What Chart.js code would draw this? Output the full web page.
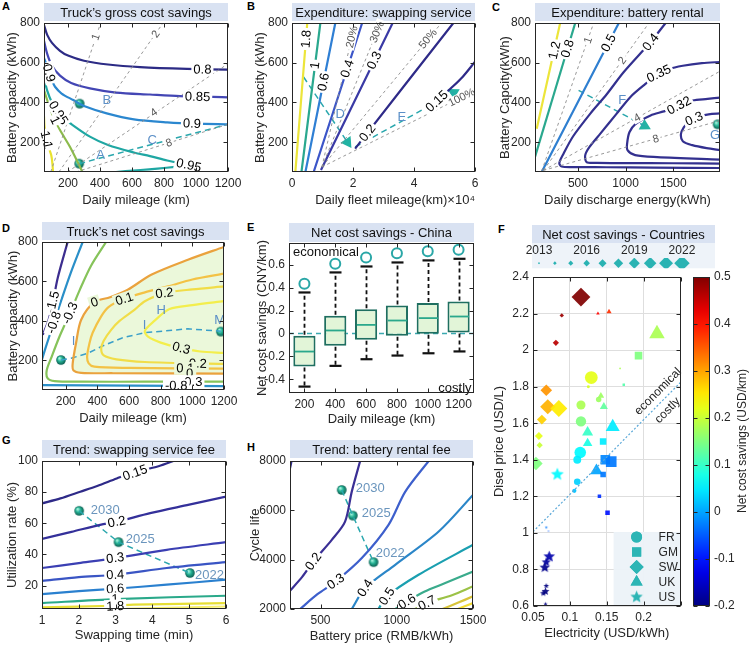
<!DOCTYPE html>
<html><head><meta charset="utf-8">
<script src="https://cdn.jsdelivr.net/npm/chart.js@4.4.1/dist/chart.umd.min.js"></script>
<style>
html,body{margin:0;padding:0;background:#fff;}
#wrap{position:relative;width:750px;height:646px;overflow:hidden;background:#fff;}
canvas{position:absolute;}
.lt{position:absolute;font:bold 11px "Liberation Sans",Arial,sans-serif;color:#000;line-height:11px;}
</style></head><body><div id="wrap">
<div class="lt" style="left:2px;top:1px">A</div>
<div class="lt" style="left:247px;top:1px">B</div>
<div class="lt" style="left:492px;top:2px">C</div>
<div class="lt" style="left:2px;top:223px">D</div>
<div class="lt" style="left:247px;top:222px">E</div>
<div class="lt" style="left:498px;top:224px">F</div>
<div class="lt" style="left:2px;top:435px">G</div>
<div class="lt" style="left:247px;top:442px">H</div>
</div>
<script>
// ================= DATA =================
// Panel A: truck's gross cost savings (x: daily mileage km, y: battery kWh)
const A_xt = [200,400,600,800,1000,1200], A_yt = [200,400,600,800];
const A_c080 = [[50,790],[70,740],[100,700],[150,660],[200,636],[300,610],[450,591],[650,578],[944,569],[1200,565]];
const A_c085 = [[50,710],[70,645],[100,585],[150,535],[220,498],[337,471],[500,450],[712,440],[900,432],[1200,426]];
const A_c090 = [[50,625],[65,590],[81,548],[100,510],[119,479],[160,445],[233,412],[300,382],[442,345],[612,315],[820,300],[1000,293],[1200,290]];
const A_c095u = [[50,525],[70,460],[100,400],[150,335],[223,290],[337,228],[450,186],[612,148],[712,130],[820,108],[1000,76]];
const A_c095l = [[500,50],[560,54],[653,60],[760,67],[870,76]];
const A_c100 = [[50,462],[75,400],[108,328],[150,261],[212,177],[264,94],[290,50]];
const A_c110 = [[50,330],[53,280],[62,230],[75,185],[95,135],[103,90],[106,50]];
const A_g1 = [[92,50],[404,800]], A_g2 = [[143,50],[794,800]], A_g4 = [[196,50],[1200,595]], A_g8 = [[250,50],[1200,290]];
const A_lineC = [[270,92],[1200,290]];
const A_balls = [[273,394],[270,92]];
const A_lab = [['0.8',1040,566],['0.85',1010,429],['0.9',975,294],['0.9',81,548],['0.95',140,348],['0.95',955,84],['1',119,311],['1.1',66,212]];
const A_glab = [['1',372,730],['2',747,745],['4',736,350],['8',830,197]];
const A_txt = [['A',404,134],['B',443,414],['C',726,209]];

// Panel B: swapping service expenditure (x: daily fleet mileage 1e4 km)
const B_xt = [0,2,4,6];
const B_c18 = [[0.11,50],[0.5,800]];
const B_c1 = [[0.31,50],[0.93,800]];
const B_c06 = [[0.44,50],[1.42,800]];
const B_c04 = [[0.71,50],[2.3,800]];
const B_c03 = [[0.95,60],[3.3,800]];
const B_c02 = [[2.07,168],[5.29,800]];
const B_c015 = [[4.6,385],[5.2,470],[5.6,530],[6,605]];
const B_g20 = [[0.98,75],[2.07,800]], B_g30 = [[0.98,75],[2.9,800]], B_g50 = [[0.98,75],[4.9,800]], B_g100 = [[0.98,75],[6,460]];
const B_lineD = [[0.38,528],[1.82,200]];
const B_lineE = [[2.07,176],[5.3,450]];
const B_lab = [['1.8',0.46,720],['1',0.75,587],['0.6',1.03,503],['0.4',1.81,570],['0.3',2.7,612],['0.2',2.47,247],['0.15',4.75,406]];
const B_glab = [['20%',1.96,730],['30%',2.78,755],['50%',4.45,721],['100%',5.56,426]];
const B_txt = [['D',1.58,344],['E',3.6,327]];

// Panel C: battery rental expenditure (x: daily discharge energy kWh)
const C_xt = [500,1000,1500];
const C_c12 = [[68,268],[314,800]];
const C_c08 = [[50,126],[472,800]];
const C_c05 = [[120,50],[929,800]];
const C_c04 = [[1420,800],[1262,704],[981,553],[800,440],[630,344],[450,230],[349,142],[305,95],[330,78],[450,75],[800,74],[1300,72],[2000,70]];
const C_c035 = [[2000,604],[1800,598],[1600,585],[1450,568],[1350,545],[1200,490],[1051,428],[900,340],[735,243],[620,175],[577,135],[590,100],[700,96],[1000,95],[1500,94],[2000,92]];
const C_c032 = [[2000,425],[1860,418],[1700,410],[1600,395],[1520,375],[1400,355],[1262,335],[1100,290],[1040,250],[1016,193],[1020,160],[1100,135],[1332,125],[2000,112]];
const C_c03 = [[2000,345],[1870,340],[1780,330],[1719,318],[1660,300],[1610,275],[1580,240],[1600,205],[1700,185],[1850,170],[2000,160]];
const C_g1 = [[120,55],[665,800]], C_g2 = [[138,58],[1245,800]], C_g4 = [[138,58],[2000,560]], C_g8 = [[138,58],[2000,310]];
const C_lineF = [[507,461],[1200,282]];
const C_balls = [[1965,290]];
const C_lab = [['1.2',255,662],['0.8',391,671],['0.5',820,700],['0.4',1262,704],['0.35',1350,545],['0.32',1560,385],['0.3',1719,318]];
const C_glab = [['1',605,713],['2',965,612],['4',1122,323],['8',1315,217]];
const C_txt = [['F',964,411],['G',1937,235]];

// Panel D: truck's net cost savings
const D_cm15 = [[212,800],[150,620],[120,500],[90,400],[55,330]];
const D_cm08 = [[307,800],[230,640],[170,500],[120,380],[75,270],[50,205]];
const D_cm08b = [[50,75],[1200,70]];
const D_cm03 = [[455,800],[360,680],[290,560],[227,440],[160,320],[107,210],[80,150],[85,110],[130,95],[300,92],[700,92],[1200,92]];
const D_c0 = [[1200,775],[972,710],[740,634],[592,558],[480,520],[381,495],[297,405],[265,287],[244,185],[248,150],[297,137],[500,135],[1200,133]];
const D_c01 = [[1200,640],[1000,610],[845,575],[700,545],[570,512],[470,470],[423,422],[370,340],[350,287],[335,220],[345,185],[381,168],[600,162],[1200,158]];
const D_c02 = [[1200,575],[1000,560],[824,541],[700,500],[634,456],[540,400],[487,355],[440,300],[424,260],[440,225],[520,205],[700,192],[1200,182]];
const D_c03 = [[1200,500],[1000,480],[856,460],[760,400],[700,350],[720,320],[800,290],[930,262],[1050,245],[1200,238]];
const D_path = [[170,202],[234,211],[339,236],[424,270],[560,315],[698,340],[972,360],[1180,348]];
const D_balls = [[170,202],[1180,346]];
const D_lab = [['-1.5',118,495],['-0.8',125,392],['-0.3',227,440],['0',381,495],['0.1',570,512],['0.2',824,541],['0.3',930,262],['0.2',1035,184],['0.1',955,160],['0',983,134],['-0.3',993,92],['-0.8',898,72]];
const D_txt = [['H',803,456],['M',1172,405],['I',698,380],['I',250,300]];

// Panel E: net cost savings China (box plot)
const E_cats = ['200','400','600','800','1000','1200'];
const E_yt = [-0.4,-0.2,0,0.2,0.4,0.6];
const E_min = [-0.464,-0.283,-0.225,-0.193,-0.173,-0.157];
const E_q1  = [-0.289,-0.108,-0.056,-0.021,-0.002,0.009];
const E_med = [-0.158,0.026,0.075,0.113,0.134,0.148];
const E_q3  = [-0.021,0.154,0.212,0.244,0.265,0.279];
const E_max = [0.358,0.533,0.585,0.62,0.638,0.652];
const E_top = [0.434,0.609,0.664,0.70,0.717,0.731];

// Panel F: countries (x electricity USD/kWh, y diesel USD/L, v net savings USD/km, yr year)
const F_xt = [0.05,0.1,0.15,0.2,0.25], F_yt = [0.6,0.8,1,1.2,1.4,1.6,1.8,2,2.2,2.4];
const FR_x = [0.129,0.125,0.115,0.115,0.139,0.168,0.114,0.110,0.110,0.106];
const FR_y = [1.85,1.80,1.70,1.61,1.73,1.90,1.44,1.40,1.28,1.23];
const FR_v = [0.22,0.21,0.18,0.15,0.17,0.18,0.06,0.05,0.03,0.02];
const FR_yr = [2022,2014,2019,2020,2016,2013,2021,2018,2017,2015];
const GM_x = [0.193,0.173,0.145,0.148,0.156,0.145,0.140,0.151];
const GM_y = [1.97,1.81,1.50,1.40,1.39,1.32,1.20,1.11];
const GM_v = [0.15,0.12,0.05,-0.02,-0.03,-0.03,-0.08,-0.10];
const GM_yr = [2019,2014,2018,2021,2022,2017,2015,2016];
const SW_x = [0.115,0.089,0.081,0.068,0.070,0.085,0.062,0.058,0.059,0.054];
const SW_y = [2.29,2.19,2.04,1.78,1.69,1.68,1.62,1.53,1.48,1.38];
const SW_v = [0.50,0.48,0.46,0.31,0.29,0.25,0.27,0.22,0.20,0.15];
const SW_yr = [2022,2014,2015,2018,2020,2021,2017,2016,2015,2019];
const UK_x = [0.218,0.138,0.153,0.146,0.142,0.124,0.124,0.158,0.136];
const UK_y = [2.09,2.20,2.21,1.69,1.75,1.55,1.49,1.58,1.34];
const UK_v = [0.18,0.41,0.38,0.13,0.17,0.10,0.08,0.05,0.00];
const UK_yr = [2022,2014,2015,2017,2016,2019,2018,2021,2020];
const US_x = [0.083,0.068,0.071,0.072,0.068,0.066,0.068,0.067,0.064,0.067];
const US_y = [1.32,1.03,1.01,0.87,0.84,0.81,0.71,0.68,0.67,0.61];
const US_v = [0.06,-0.03,-0.05,-0.17,-0.18,-0.19,-0.20,-0.20,-0.20,-0.20];
const US_yr = [2022,2014,2013,2021,2019,2020,2016,2018,2017,2015];
const F_years = [2013,2014,2015,2016,2017,2018,2019,2020,2021,2022];
const F_yearTicks = [2013,2016,2019,2022];
const F_sep = [[0.05,1.006],[0.25,1.824]];
const F_txt = [['economical',0.219,1.775],['costly',0.232,1.672]];
const F_legend = ['FR','GM','SW','UK','US'];
const CB_range = [-0.2,0.5];
const CB_t = [-0.2,-0.1,0,0.1,0.2,0.3,0.4,0.5];

// Panel G: swapping service fee trend
const G_xt = [1,2,3,4,5,6], G_yt = [20,40,60,80,100];
const G_c015 = [[1,72.8],[1.5,76],[2.04,80.3],[2.5,84],[3.03,88.8],[3.53,93],[4.12,96.3],[4.57,100],[5,103]];
const G_c02 = [[1,50],[1.8,54.5],[2.58,59],[3.03,61],[3.94,66.5],[5,72],[6,77.2]];
const G_c03 = [[1,31.3],[2,34.5],[2.99,37.7],[4.39,43],[6,47.9]];
const G_c04 = [[1,23.1],[2,25.5],[2.99,27],[4.39,31.3],[6,35.1]];
const G_c06 = [[1,14.6],[2,16.5],[2.99,18],[4.39,20.6],[6,23.8]];
const G_c1 = [[1,8.8],[2.99,11.4],[6,13.5]];
const G_c18 = [[1,6.1],[2.94,7.1],[3.49,7.8],[6,8.8]];
const G_c25 = [[2.9,5],[6,6.6]];
const G_path = [[2.01,68],[3.08,47.9],[5.02,28.1]];
const G_lab = [['0.15',3.53,92.5],['0.2',3.03,61],['0.3',2.99,37.7],['0.4',2.99,27],['0.6',2.99,18],['1',2.99,11.4],['1.8',2.99,6.8]];
const G_txt = [['2030',2.72,68.6],['2025',3.67,50],['2022',5.55,27]];

// Panel H: battery rental fee trend
const H_xt = [500,1000,1500], H_yt = [2000,4000,6000,8000];
const H_c015 = [[300,7700],[310,8000]];
const H_c02 = [[300,2741],[380,3300],[453,3928],[574,4804],[661,5545],[705,6758],[760,8000]];
const H_c03 = [[366,2000],[480,2600],[600,3119],[771,4063],[946,5410],[1056,6758],[1209,8000]];
const H_c04 = [[705,2000],[793,2849],[990,3793],[1275,5141],[1500,6624]];
const H_c05 = [[880,2000],[935,2512],[1143,3388],[1500,4602]];
const H_c06 = [[990,2000],[1067,2300],[1180,2700],[1318,3050],[1500,3523]];
const H_c07 = [[1120,2000],[1198,2243],[1362,2560],[1500,2917]];
const H_c08 = [[1300,2000],[1400,2250],[1500,2512]];
const H_c09 = [[1400,2000],[1500,2243]];
const H_path = [[639,6826],[712,5788],[848,3900]];
const H_lab = [['0.2',453,3928],['0.3',600,3119],['0.4',793,2849],['0.5',935,2512],['0.6',1067,2300],['0.7',1198,2243]];
const H_txt = [['2030',826,6893],['2025',865,5882],['2022',957,4265]];

// ================= HELPERS =================
const FF = '"Liberation Sans", Arial, Helvetica, sans-serif';
Chart.defaults.font.family = FF;
const TXT = '#262626';
const toXY = a => a.map(p => ({x: p[0], y: p[1]}));
const fmt = function (v) { return String(parseFloat(Number(v).toFixed(3))); };
const L = (arr, color, extra) => Object.assign({data: toXY(arr), showLine: true, borderColor: color, borderWidth: 2.2,
  pointRadius: 0, pointHoverRadius: 0, tension: 0.3, fill: false}, extra || {});
const GREY = {borderWidth: 0.9, borderDash: [3, 3], tension: 0, noAngle: false};
const TEALDASH = {borderWidth: 1.5, borderDash: [6, 4], tension: 0, noAngle: true};

const ballCache = {};
function ballImg(r) {
  if (ballCache[r]) return ballCache[r];
  const s = Math.ceil(r * 2 + 2), c = document.createElement('canvas'); c.width = c.height = s;
  const x = c.getContext('2d'), m = s / 2;
  const g = x.createRadialGradient(m - r * 0.35, m - r * 0.4, r * 0.1, m, m, r);
  g.addColorStop(0, '#a8f5df'); g.addColorStop(0.45, '#25b294'); g.addColorStop(1, '#0b5d50');
  x.fillStyle = g; x.beginPath(); x.arc(m, m, r, 0, Math.PI * 2); x.fill();
  return (ballCache[r] = c);
}
const balls = arr => ({data: toXY(arr), showLine: false, pointStyle: ballImg(4.8), pointRadius: 5});
function arrowSet(line, color) {
  const last = line[line.length - 1], prev = line[line.length - 2];
  return {data: [{x: last[0], y: last[1]}], showLine: false, pointStyle: 'triangle', pointRadius: 7,
    backgroundColor: color, borderColor: color, borderWidth: 0,
    rotation: c => { const xs = c.chart.scales.x, ys = c.chart.scales.y;
      const dx = xs.getPixelForValue(last[0]) - xs.getPixelForValue(prev[0]);
      const dy = ys.getPixelForValue(last[1]) - ys.getPixelForValue(prev[1]);
      return Math.atan2(dy, dx) * 180 / Math.PI + 90; }};
}
function jet(v, a) {
  const t = Math.max(0, Math.min(1, (v - CB_range[0]) / (CB_range[1] - CB_range[0])));
  const f = k => Math.round(255 * Math.max(0, Math.min(1, 1.5 - Math.abs(4 * t - k))));
  return `rgba(${f(3)},${f(2)},${f(1)},${a == null ? 1 : a})`;
}
const rYear = y => 1.3 + (y - 2013) * 0.9;
const starCache = {};
function starImg(color, r) {
  const key = color + r.toFixed(1); if (starCache[key]) return starCache[key];
  const s = Math.ceil(r * 2 + 2), c = document.createElement('canvas'); c.width = c.height = s;
  const x = c.getContext('2d'), m = s / 2; x.fillStyle = color; x.beginPath();
  for (let i = 0; i < 10; i++) { const rr = i % 2 ? r * 0.45 : r, a = -Math.PI / 2 + i * Math.PI / 5;
    x.lineTo(m + rr * Math.cos(a), m + rr * Math.sin(a)); }
  x.closePath(); x.fill();
  return (starCache[key] = c);
}

// ================= PLUGINS =================
const framePlugin = {
  id: 'frame',
  beforeDraw(chart, args, o) {
    const {ctx, chartArea: a} = chart; ctx.save();
    if (o.band) { ctx.fillStyle = o.band.color; ctx.fillRect(a.left, a.top - o.band.up, a.right - a.left, a.bottom - a.top + o.band.up); }
    if (o.title) {
      const t = o.title, l = a.left + (t.dl || 0), r = a.right + (t.dr || 0), top = a.top - t.up;
      ctx.fillStyle = '#d9e2f2'; ctx.fillRect(l, top, r - l, t.h);
      ctx.fillStyle = '#111'; ctx.font = '13px ' + FF; ctx.textAlign = 'center'; ctx.textBaseline = 'middle';
      ctx.fillText(t.text, (l + r) / 2, top + t.h / 2 + 1);
    }
    if (o.vtext) { ctx.translate(o.vtext.x, o.vtext.y); ctx.rotate(-Math.PI / 2); ctx.fillStyle = TXT;
      ctx.font = '12px ' + FF; ctx.textAlign = 'center'; ctx.textBaseline = 'middle'; ctx.fillText(o.vtext.text, 0, 0); }
    ctx.restore();
  },
  afterDraw(chart, args, o) {
    if (!o.box) return;
    const {ctx, chartArea: a} = chart; ctx.save(); ctx.strokeStyle = '#262626'; ctx.lineWidth = 1;
    const l = Math.round(a.left) + 0.5, t = Math.round(a.top) + 0.5, r = Math.round(a.right) - 0.5, b = Math.round(a.bottom) - 0.5;
    ctx.strokeRect(l, t, r - l, b - t);
    const T = 4; ctx.beginPath();
    if (!o.noX) { const xs = chart.scales.x; xs.ticks.forEach((tk, i) => { const x = Math.round(xs.getPixelForTick(i)) + 0.5;
      ctx.moveTo(x, b); ctx.lineTo(x, b - T); ctx.moveTo(x, t); ctx.lineTo(x, t + T); }); }
    const ys = chart.scales.y; ys.ticks.forEach((tk, i) => { const y = Math.round(ys.getPixelForTick(i)) + 0.5;
      ctx.moveTo(l, y); ctx.lineTo(l + T, y); ctx.moveTo(r, y); ctx.lineTo(r - T, y); });
    ctx.stroke(); ctx.restore();
  }
};
function polyPath(ctx, meta) { ctx.beginPath(); meta.data.forEach((p, i) => i ? ctx.lineTo(p.x, p.y) : ctx.moveTo(p.x, p.y)); ctx.closePath(); }
const polyFill = {
  id: 'polyFill',
  beforeDatasetsDraw(chart, args, o) {
    if (o.index == null) return;
    const {ctx, chartArea: a} = chart; ctx.save(); ctx.beginPath(); ctx.rect(a.left, a.top, a.right - a.left, a.bottom - a.top); ctx.clip();
    polyPath(ctx, chart.getDatasetMeta(o.index)); ctx.fillStyle = o.color; ctx.fill(); ctx.restore();
  }
};
const annot = {
  id: 'annot',
  afterDatasetsDraw(chart, args, o) {
    if (!o.groups) return;
    const {ctx} = chart, xs = chart.scales.x, ys = chart.scales.y, segs = [];
    chart.data.datasets.forEach((d, i) => { if (!d.showLine || d.noAngle) return;
      const pts = chart.getDatasetMeta(i).data;
      for (let k = 1; k < pts.length; k++) segs.push([pts[k - 1].x, pts[k - 1].y, pts[k].x, pts[k].y]); });
    o.groups.forEach(g => g.items.forEach(([t, x, y]) => {
      const px = xs.getPixelForValue(x), py = ys.getPixelForValue(y); let ang = 0;
      if (g.rotate) { let best = 1e12;
        segs.forEach(([x1, y1, x2, y2]) => { const dx = x2 - x1, dy = y2 - y1, l2 = dx * dx + dy * dy || 1;
          let u = ((px - x1) * dx + (py - y1) * dy) / l2; u = Math.max(0, Math.min(1, u));
          const qx = x1 + u * dx - px, qy = y1 + u * dy - py, d2 = qx * qx + qy * qy;
          if (d2 < best) { best = d2; ang = Math.atan2(dy, dx); } });
        if (ang > Math.PI / 2) ang -= Math.PI; if (ang < -Math.PI / 2) ang += Math.PI; }
      ctx.save(); ctx.font = g.font; const w = ctx.measureText(t).width; let bg = g.bg;
      if (bg && g.fillIndex != null) { polyPath(ctx, chart.getDatasetMeta(g.fillIndex)); if (ctx.isPointInPath(px, py)) bg = g.fillBg; ctx.beginPath(); }
      ctx.translate(px, py); ctx.rotate(ang);
      if (bg) { ctx.fillStyle = bg; ctx.fillRect(-w / 2 - 2, -g.h / 2, w + 4, g.h); }
      ctx.fillStyle = g.color; ctx.textAlign = 'center'; ctx.textBaseline = 'middle'; ctx.fillText(t, 0, 0.5);
      ctx.restore(); }));
  }
};
const boxw = {
  id: 'boxw',
  beforeDatasetsDraw(chart, args, o) {
    if (!o.min) return;
    const {ctx, chartArea: a} = chart, y0 = Math.round(chart.scales.y.getPixelForValue(0)) + 0.5;
    ctx.save(); ctx.strokeStyle = '#3aa9b0'; ctx.lineWidth = 1.5; ctx.setLineDash([5, 4]);
    ctx.beginPath(); ctx.moveTo(a.left, y0); ctx.lineTo(a.right, y0); ctx.stroke(); ctx.restore();
  },
  afterDatasetsDraw(chart, args, o) {
    if (!o.min) return;
    const {ctx} = chart, xs = chart.scales.x, ys = chart.scales.y, bars = chart.getDatasetMeta(0).data;
    const ln = (x1, y1, x2, y2) => { ctx.beginPath(); ctx.moveTo(x1, y1); ctx.lineTo(x2, y2); ctx.stroke(); };
    ctx.save();
    o.min.forEach((mn, i) => {
      const x = Math.round(xs.getPixelForValue(i)) + 0.5, P = v => ys.getPixelForValue(v);
      ctx.strokeStyle = '#111'; ctx.lineWidth = 1.8; ctx.setLineDash([4, 3]);
      ln(x, P(o.q3[i]) - 1, x, P(o.max[i])); ln(x, P(o.q1[i]) + 1, x, P(mn));
      ctx.setLineDash([]); ctx.lineWidth = 2.2;
      ln(x - 6, P(o.max[i]), x + 6, P(o.max[i])); ln(x - 6, P(mn), x + 6, P(mn));
      const bw = bars[i].width; ctx.strokeStyle = '#2aa88c'; ctx.lineWidth = 1.8;
      ln(x - bw / 2 + 1.5, P(o.med[i]), x + bw / 2 - 1.5, P(o.med[i]));
    });
    (o.corner || []).forEach(([t, x, y, al]) => { ctx.fillStyle = '#111'; ctx.font = '13px ' + FF; ctx.textAlign = al;
      ctx.textBaseline = 'middle'; ctx.fillText(t, xs.getPixelForValue(x), ys.getPixelForValue(y)); });
    ctx.restore();
  }
};
const legF = {
  id: 'legF',
  afterDatasetsDraw(chart, args, o) {
    if (!o.items) return;
    const {ctx, chartArea: a} = chart, w = 67, h = 74; ctx.save();
    ctx.fillStyle = 'rgba(236,242,248,0.95)'; ctx.fillRect(a.right - w, a.bottom - h, w, h);
    const styles = ['circle', 'rect', 'rectRot', 'triangle', 'star'], rad = [5.5, 6.5, 7, 7, 6.5], col = '#2cb5b5';
    o.items.forEach((t, i) => { const y = a.bottom - 69 + i * 15, x = a.right - 44;
      if (styles[i] === 'star') { const im = starImg(col, rad[i]); ctx.drawImage(im, x - im.width / 2, y - im.height / 2); }
      else { ctx.fillStyle = col; ctx.strokeStyle = col; Chart.helpers.drawPoint(ctx, {pointStyle: styles[i], radius: rad[i], borderWidth: 0, rotation: 0}, x, y); ctx.fill(); }
      ctx.fillStyle = TXT; ctx.font = '12px ' + FF; ctx.textAlign = 'left'; ctx.textBaseline = 'middle'; ctx.fillText(t, a.right - 22, y + 1);
    });
    ctx.restore();
  }
};
Chart.register(framePlugin, polyFill, annot, boxw, legF);

function mkCanvas(g) {
  const c = document.createElement('canvas'); c.width = g.x1 - g.x0; c.height = g.y1 - g.y0;
  c.style.left = g.x0 + 'px'; c.style.top = g.y0 + 'px'; c.style.width = c.width + 'px'; c.style.height = c.height + 'px';
  document.getElementById('wrap').appendChild(c); return c;
}
const setTicks = arr => (arr ? (s => { s.ticks = arr.map(v => ({value: v})); }) : undefined);
function sx(g, o) {
  return {type: o.type || 'linear', min: o.min, max: o.max, offset: !!o.offset, position: o.position || 'bottom',
    grid: o.grid ? {display: true, color: '#dedede', drawTicks: false} : {display: false, drawTicks: false},
    border: {display: false},
    ticks: Object.assign({autoSkip: false, maxRotation: 0, padding: o.tp == null ? 4 : o.tp,
      color: TXT, font: {size: 12}}, o.type === 'category' ? {} : {callback: o.cb || fmt}),
    afterBuildTicks: setTicks(o.ticks),
    title: {display: !!o.title, text: o.title, color: TXT, font: {size: 13}, align: o.align || 'center',
      padding: {top: 0, bottom: g.xt ? g.y1 - g.xt - 7.8 : 0}},
    afterFit: s => { s.height = o.h != null ? o.h : g.y1 - g.B; }};
}
function sy(g, o) {
  return {type: 'linear', min: o.min, max: o.max, position: o.position || 'left',
    grid: o.grid ? {display: true, color: '#dedede', drawTicks: false} : {display: false, drawTicks: false},
    border: {display: false},
    ticks: {autoSkip: false, padding: 4, color: TXT, font: {size: 12}, callback: o.cb || fmt},
    afterBuildTicks: setTicks(o.ticks),
    title: {display: !!o.title, text: o.title, color: TXT, font: {size: 13}, padding: {top: g.yt ? g.yt - g.x0 - 7.8 : 0, bottom: 0}},
    afterFit: s => { s.width = o.w != null ? o.w : g.L - g.x0; }};
}
function make(g, type, data, scales, plugins, pad) {
  const c = mkCanvas(g);
  return new Chart(c, {type, data, options: {responsive: false, animation: false, devicePixelRatio: 1, events: [],
    layout: {padding: pad || {left: 0, top: g.T - g.y0, right: g.x1 - g.R, bottom: 0}},
    scales, plugins: Object.assign({legend: {display: false}, tooltip: {enabled: false}}, plugins)}});
}
const LBL = (items, extra) => Object.assign({items, rotate: true, bg: '#fff', color: '#000', font: '13px ' + FF, h: 13}, extra || {});
const GLB = items => ({items, rotate: true, bg: '#fff', color: '#555', font: '11px ' + FF, h: 10});
const TX = (items, color) => ({items, rotate: false, color: color || '#5b8fc7', font: '13px ' + FF});
const TEAL = '#2aa7ad';

// ================= PANEL A =================
(() => { const g = {L: 44, T: 23, R: 228, B: 172, x0: 0, y0: 0, x1: 254, y1: 210, yt: 12, xt: 200};
  make(g, 'scatter', {datasets: [
    L(A_g1, '#8c8c8c', GREY), L(A_g2, '#8c8c8c', GREY), L(A_g4, '#8c8c8c', GREY), L(A_g8, '#8c8c8c', GREY),
    L(A_c080, '#2c2b85'), L(A_c085, '#4346b4'), L(A_c090, '#2b87cf'), L(A_c095u, '#1fa7a3'), L(A_c095l, '#1fa7a3'),
    L(A_c100, '#8cbb4c'), L(A_c110, '#e9e22e'),
    L(A_lineC, TEAL, TEALDASH), balls(A_balls)]},
    {x: sx(g, {min: 50, max: 1200, ticks: A_xt, title: 'Daily mileage (km)'}), y: sy(g, {min: 50, max: 800, ticks: A_yt, title: 'Battery capacity (kWh)'})},
    {frame: {box: true, title: {text: 'Truck\u2019s gross cost savings', up: 20, h: 18}},
     annot: {groups: [LBL(A_lab), GLB(A_glab), TX(A_txt)]}});
})();

// ================= PANEL B =================
(() => { const g = {L: 292, T: 23, R: 475, B: 172, x0: 248, y0: 0, x1: 501, y1: 210, yt: 260, xt: 200};
  make(g, 'scatter', {datasets: [
    L(B_g20, '#8c8c8c', GREY), L(B_g30, '#8c8c8c', GREY), L(B_g50, '#8c8c8c', GREY), L(B_g100, '#8c8c8c', GREY),
    L(B_c18, '#ece53a'), L(B_c1, '#2aa88e'), L(B_c06, '#2f7fd4'), L(B_c04, '#3b55c8'), L(B_c03, '#3a3aa5'), L(B_c02, '#2e2a88'), L(B_c015, '#2e2a88'),
    L(B_lineD, TEAL, TEALDASH), L(B_lineE, TEAL, TEALDASH), arrowSet(B_lineD, '#22b3a3'), arrowSet(B_lineE, '#22b3a3')]},
    {x: sx(g, {min: 0, max: 6, ticks: B_xt, title: 'Daily fleet mileage(km)\u00d710\u2074', align: 'end'}), y: sy(g, {min: 50, max: 800, ticks: A_yt, title: 'Battery capacity (kWh)'})},
    {frame: {box: true, title: {text: 'Expenditure: swapping service', up: 20, h: 18}},
     annot: {groups: [LBL(B_lab), GLB(B_glab), TX(B_txt)]}});
})();

// ================= PANEL C =================
(() => { const g = {L: 535, T: 23, R: 720, B: 172, x0: 491, y0: 0, x1: 748, y1: 210, yt: 505, xt: 200};
  make(g, 'scatter', {datasets: [
    L(C_g1, '#8c8c8c', GREY), L(C_g2, '#8c8c8c', GREY), L(C_g4, '#8c8c8c', GREY), L(C_g8, '#8c8c8c', GREY),
    L(C_c12, '#ece53a'), L(C_c08, '#2aa88e'), L(C_c05, '#2f7fd0'), L(C_c04, '#33308f'), L(C_c035, '#33308f'), L(C_c032, '#33308f'), L(C_c03, '#33308f'),
    L(C_lineF, TEAL, TEALDASH), arrowSet(C_lineF, '#22b3a3'), balls(C_balls)]},
    {x: sx(g, {min: 50, max: 1990, ticks: C_xt, title: 'Daily discharge energy(kWh)'}), y: sy(g, {min: 50, max: 800, ticks: A_yt, title: 'Battery Capcity(kWh)'})},
    {frame: {box: true, title: {text: 'Expenditure: battery rental', up: 20, h: 18}},
     annot: {groups: [LBL(C_lab), GLB(C_glab), TX(C_txt)]}});
})();

// ================= PANEL D =================
(() => { const g = {L: 42, T: 242, R: 224, B: 390, x0: 0, y0: 218, x1: 250, y1: 428, yt: 13, xt: 418};
  make(g, 'scatter', {datasets: [
    L(D_c0, '#eaa23d'), L(D_cm15, '#3c2d8f'), L(D_cm08, '#2a8fc8'), L(D_cm08b, '#2a8fc8'), L(D_cm03, '#86c35a'),
    L(D_c01, '#f3c245'), L(D_c02, '#f1dd48'), L(D_c03, '#f3ee4c'),
    L(D_path, '#3a9fc9', TEALDASH), balls(D_balls)]},
    {x: sx(g, {min: 50, max: 1200, ticks: A_xt, title: 'Daily mileage (km)'}), y: sy(g, {min: 50, max: 800, ticks: A_yt, title: 'Battery capacity (kWh)'})},
    {frame: {box: true, title: {text: 'Truck\u2019s net cost savings', up: 20, h: 18, dr: 5}},
     polyFill: {index: 0, color: '#ebf8da'},
     annot: {groups: [LBL(D_lab, {fillIndex: 0, fillBg: '#ebf8da'}), TX(D_txt)]}});
})();

// ================= PANEL E =================
(() => { const g = {L: 289, T: 243, R: 474, B: 393, x0: 245, y0: 219, x1: 500, y1: 431, yt: 262, xt: 419};
  make(g, 'bar', {labels: E_cats, datasets: [
    {type: 'bar', data: E_q1.map((q, i) => [q, E_q3[i]]), backgroundColor: '#e2f5d8', borderColor: '#1f6f60', borderWidth: 2,
     borderSkipped: false, barPercentage: 0.72, categoryPercentage: 1},
    {type: 'line', data: E_top, showLine: false, pointStyle: 'circle', pointRadius: 5, backgroundColor: 'rgba(0,0,0,0)',
     borderColor: '#2aa7a7', borderWidth: 2}]},
    {x: sx(g, {type: 'category', offset: true, title: 'Daily mileage (km)'}), y: sy(g, {min: -0.52, max: 0.79, ticks: E_yt, title: 'Net cost savings (CNY/km)'})},
    {frame: {box: true, title: {text: 'Net cost savings - China', up: 20, h: 19}},
     boxw: {min: E_min, q1: E_q1, med: E_med, q3: E_q3, max: E_max, corner: [['economical', -0.37, 0.705, 'left'], ['costly', 5.42, -0.478, 'right']]}});
})();

// ================= PANEL F =================
(() => { // year legend strip + title
  const g = {L: 532, T: 258, R: 715, B: 276, x0: 520, y0: 220, x1: 730, y1: 276};
  make(g, 'scatter', {datasets: [{data: F_years.map(y => ({x: y, y: 0})), showLine: false, pointStyle: 'rectRot',
      pointRadius: c => rYear(F_years[c.dataIndex || 0]) * 0.82, backgroundColor: '#2ab3b3', borderWidth: 0}]},
    {x: sx(g, {min: 2012.56, max: 2024.08, ticks: F_yearTicks, position: 'top', h: 15, tp: 0, cb: v => String(v)}),
     y: {display: false, min: -1, max: 1}},
    {frame: {band: {color: '#eef3f9', up: 15}, title: {text: 'Net cost savings - Countries', up: 33, h: 18}}},
    {left: 12, top: 23, right: 15, bottom: 0});
})();
(() => { const g = {L: 533, T: 277, R: 687, B: 606, x0: 489, y0: 265, x1: 690, y1: 644, yt: 499, xt: 633};
  const fSet = (xs, ys, vs, yrs, style, k) => ({data: xs.map((x, i) => ({x, y: ys[i]})), showLine: false, borderWidth: 0,
    pointStyle: style === 'star' ? (c => starImg(jet(vs[c.dataIndex || 0], 0.92), rYear(yrs[c.dataIndex || 0]) * k)) : style,
    pointRadius: c => rYear(yrs[c.dataIndex || 0]) * k, backgroundColor: c => jet(vs[c.dataIndex || 0], 0.92)});
  make(g, 'scatter', {datasets: [
    L(F_sep, '#5aa8d8', {borderWidth: 1.2, borderDash: [2, 2], tension: 0}),
    fSet(FR_x, FR_y, FR_v, FR_yr, 'circle', 0.68), fSet(GM_x, GM_y, GM_v, GM_yr, 'rect', 0.8),
    fSet(SW_x, SW_y, SW_v, SW_yr, 'rectRot', 1.0), fSet(UK_x, UK_y, UK_v, UK_yr, 'triangle', 0.95),
    fSet(US_x, US_y, US_v, US_yr, 'star', 0.72)]},
    {x: sx(g, {min: 0.05, max: 0.25, ticks: F_xt, grid: true, title: 'Electricity (USD/kWh)', cb: v => v > 0.249 ? '' : fmt(v)}),
     y: sy(g, {min: 0.6, max: 2.4, ticks: F_yt, grid: true, title: 'Disel price (USD/L)'})},
    {frame: {box: true}, legF: {items: F_legend},
     annot: {groups: [{items: F_txt, rotate: true, color: '#222', font: '12px ' + FF}]}});
})();
(() => { // colorbar
  const g = {L: 693, T: 277, R: 710, B: 606, x0: 680, y0: 265, x1: 750, y1: 620};
  make(g, 'bar', {labels: ['cb'], datasets: [{data: [CB_range], barPercentage: 1, categoryPercentage: 1, borderWidth: 0,
      backgroundColor: c => { const a = c.chart.chartArea; if (!a) return '#888';
        const gr = c.chart.ctx.createLinearGradient(0, a.bottom, 0, a.top);
        for (let i = 0; i <= 20; i++) gr.addColorStop(i / 20, jet(CB_range[0] + (CB_range[1] - CB_range[0]) * i / 20));
        return gr; }}]},
    {x: {display: false}, y: sy(g, {min: CB_range[0], max: CB_range[1], ticks: CB_t, position: 'right', w: 40})},
    {frame: {box: true, noX: true, vtext: {text: 'Net cost savings (USD/km)', x: 63, y: 176}}},
    {left: 13, top: 12, right: 0, bottom: 14});
})();

// ================= PANEL G =================
(() => { const g = {L: 42, T: 461, R: 226, B: 609, x0: 0, y0: 436, x1: 252, y1: 646, yt: 12, xt: 635};
  make(g, 'scatter', {datasets: [
    L(G_c015, '#2e2a88'), L(G_c02, '#34309a'), L(G_c03, '#3b3fb3'), L(G_c04, '#3a55c4'), L(G_c06, '#2a80cf'),
    L(G_c1, '#2aa98a'), L(G_c18, '#e6de34'), L(G_c25, '#f6ee6a'),
    L(G_path, TEAL, TEALDASH), balls(G_path)]},
    {x: sx(g, {min: 1, max: 6, ticks: G_xt, title: 'Swapping time (min)'}), y: sy(g, {min: 5, max: 100, ticks: G_yt, title: 'Utilization rate (%)'})},
    {frame: {box: true, title: {text: 'Trend: swapping service fee', up: 21, h: 18}},
     annot: {groups: [LBL(G_lab), TX(G_txt, '#6a95bd')]}});
})();

// ================= PANEL H =================
(() => { const g = {L: 290, T: 461, R: 473, B: 609, x0: 246, y0: 436, x1: 499, y1: 646, yt: 255, xt: 636};
  make(g, 'scatter', {datasets: [
    L(H_c015, '#2e2a88'), L(H_c02, '#3a2f95'), L(H_c03, '#3d5fcc'), L(H_c04, '#2b86c8'), L(H_c05, '#1a9fb0'),
    L(H_c06, '#3aab8c'), L(H_c07, '#9cc247'), L(H_c08, '#d8c43a'), L(H_c09, '#f3dc35'),
    L(H_path, TEAL, TEALDASH), balls(H_path)]},
    {x: sx(g, {min: 300, max: 1500, ticks: H_xt, title: 'Battery price (RMB/kWh)'}), y: sy(g, {min: 2000, max: 8000, ticks: H_yt, title: 'Cycle life'})},
    {frame: {box: true, title: {text: 'Trend: battery rental fee', up: 21, h: 18}},
     annot: {groups: [LBL(H_lab), TX(H_txt, '#6a95bd')]}});
})();
</script></body></html>
